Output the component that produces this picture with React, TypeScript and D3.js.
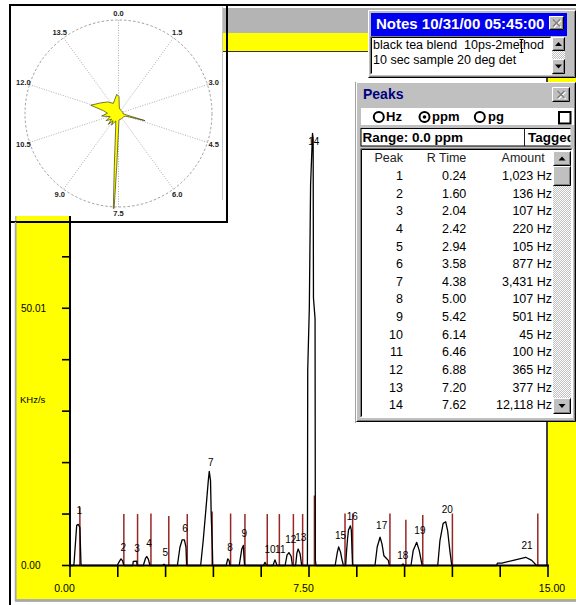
import React from "react";
import * as d3 from "d3";

const FONT = "'Liberation Sans', Arial, Helvetica, sans-serif";

// ---- chromatogram trace: [retention time (min), signal (KHz/s)]
const tracePoints: [number, number][] = [
  [0, 0], [0.1, 0], [0.125, 0.3], [0.21, 7.8], [0.26, 8.0], [0.31, 7.4], [0.345, 0.3], [0.37, 0],
  [1.48, 0], [1.55, 0.8], [1.6, 1.3], [1.65, 0.9], [1.69, 0],
  [1.97, 0], [1.985, 0.8], [2.09, 0.85], [2.11, 0],
  [2.3, 0], [2.37, 1.4], [2.41, 1.75], [2.46, 1.2], [2.51, 0],
  [2.9, 0], [2.95, 0.25], [3.0, 0],
  [3.37, 0], [3.45, 3.55], [3.52, 5.0], [3.59, 5.0], [3.64, 3.55], [3.66, 0],
  [4.1, 0], [4.18, 4.85], [4.27, 11.3], [4.34, 16.5], [4.37, 18.3], [4.41, 16.5], [4.43, 10.1], [4.47, 2.9], [4.48, 0],
  [4.9, 0], [4.95, 1.3], [4.99, 1.0], [5.02, 0],
  [5.31, 0], [5.39, 3.2], [5.44, 3.9], [5.46, 1.6], [5.48, 0],
  [6.07, 0], [6.12, 0.6], [6.17, 0],
  [6.37, 0], [6.43, 1.1], [6.5, 0],
  [6.75, 0], [6.81, 2.0], [6.87, 2.5], [6.94, 1.8], [6.98, 0],
  [7.08, 0], [7.12, 2.4], [7.16, 3.2], [7.22, 2.3], [7.27, 0],
  [7.45, 0], [7.46, 38], [7.51, 50], [7.55, 74], [7.61, 84], [7.63, 83], [7.64, 52], [7.69, 48], [7.7, 1], [7.72, 0],
  [8.32, 0], [8.39, 2.6], [8.43, 3.6], [8.49, 2.6], [8.53, 1.3], [8.58, 0],
  [8.65, 0], [8.68, 2.9], [8.71, 5.2], [8.74, 6.9], [8.8, 7.7], [8.83, 6.8], [8.85, 2.9], [8.87, 0],
  [9.57, 0], [9.64, 3.6], [9.73, 5.5], [9.79, 4.2], [9.85, 1.9], [9.94, 1.3], [9.99, 1.0], [10.02, 0],
  [10.4, 0], [10.45, 0.3], [10.5, 0],
  [10.7, 0], [10.77, 2.9], [10.88, 4.5], [10.96, 2.9], [11.01, 1.3], [11.05, 0],
  [11.54, 0], [11.61, 4.9], [11.71, 8.2], [11.79, 8.5], [11.85, 6.8], [11.92, 2.9], [11.98, 0],
  [13.39, 0], [13.41, 0.45], [13.55, 0.45], [13.91, 1.0], [14.3, 1.6], [14.49, 1.0], [14.64, 0], [15, 0],
];

// ---- peak end markers (red)
const markerTimes = [0.31, 1.69, 2.12, 2.54, 3.1, 3.68, 4.46, 5.04, 5.49, 6.19, 6.57, 7.01, 7.3, 7.67, 8.63, 8.87, 10.04, 10.54, 11.07, 12.0, 14.68];
const markerHeights = [11.3, 10, 10, 10.1, 9.6, 10, 10.5, 10.1, 10, 10, 10, 10, 10, 13.6, 10.1, 10.1, 10.1, 8.9, 9.8, 10.1, 10.1];

// ---- peak labels
const peakLabelNames = ["1", "2", "3", "4", "5", "6", "7", "8", "9", "10", "11", "12", "13", "14", "15", "16", "17", "18", "19", "20", "21"];
const peakLabelTimes = [0.29, 1.67, 2.1, 2.48, 2.99, 3.61, 4.42, 5.02, 5.47, 6.28, 6.6, 6.93, 7.24, 7.65, 8.49, 8.86, 9.78, 10.44, 10.98, 11.84, 14.34];
const peakLabelValues = [10.6, 3.5, 3.3, 4.2, 2.6, 7.1, 20.0, 3.5, 6.3, 3.2, 3.2, 5.1, 5.4, 82.5, 5.9, 9.6, 7.7, 2.0, 6.8, 10.8, 3.8];

// ---- axes
const xTickValues = [0, 1.5, 3, 4.5, 6, 7.5, 9, 10.5, 12, 13.5, 15];
const xLabelValues = [0, 7.5, 15];
const xLabelTexts = ["0.00", "7.50", "15.00"];
const yTickValues = [0, 10.002, 20.004, 30.006, 40.008, 50.01, 60.012, 70.014, 80.016, 90.018, 100.02];
const yLabelValues = [0, 50.01];
const yLabelTexts = ["0.00", "50.01"];
const yUnit = "KHz/s";

// ---- polar inset
const polarTickTimes = [0, 1.5, 3, 4.5, 6, 7.5, 9, 10.5, 12, 13.5];
const polarTickLabels = ["0.0", "1.5", "3.0", "4.5", "6.0", "7.5", "9.0", "10.5", "12.0", "13.5"];
const polarPoints: [number, number][] = [
  [0.07, 18], [0.35, 6], [1.0, 4.5], [2.0, 4.3], [3.0, 4.8], [3.9, 5], [4.15, 8], [4.38, 29.4], [4.6, 8],
  [5.2, 6.4], [6.2, 6.4], [7.32, 7], [7.58, 56.7], [7.61, 101.6], [7.63, 101.6], [7.69, 56.7], [8.0, 14.4],
  [8.35, 8.6], [8.8, 14.4], [9.05, 9.6], [9.3, 16], [9.6, 9.6], [10.0, 15.3], [10.4, 9.6], [10.9, 18.2],
  [11.3, 11.8], [11.7, 16.6], [11.94, 31], [12.5, 22.5], [13.2, 17], [13.87, 12.2], [14.78, 20.6],
];

// ---- peaks table
const peakIds = ["1", "2", "3", "4", "5", "6", "7", "8", "9", "10", "11", "12", "13", "14"];
const peakRTimes = ["0.24", "1.60", "2.04", "2.42", "2.94", "3.58", "4.38", "5.00", "5.42", "6.14", "6.46", "6.88", "7.20", "7.62"];
const peakAmounts = ["1,023 Hz", "136 Hz", "107 Hz", "220 Hz", "105 Hz", "877 Hz", "3,431 Hz", "107 Hz", "501 Hz", "45 Hz", "100 Hz", "365 Hz", "377 Hz", "12,118 Hz"];

const notesTitle = "Notes 10/31/00 05:45:00";
const notesLines = ["black tea blend  10ps-2method", "10 sec sample 20 deg det"];

const GRAY = "#c0c0c0";

function Raised({ x, y, w, h, fill = GRAY }: any) {
  return (
    <g>
      <rect x={x} y={y} width={w} height={h} fill={fill} />
      <path d={`M${x + 0.5},${y + h - 0.5}V${y + 0.5}H${x + w - 0.5}`} stroke="#fff" fill="none" />
      <path d={`M${x + 0.5},${y + h - 0.5}H${x + w - 0.5}V${y + 0.5}`} stroke="#000" fill="none" />
      <path d={`M${x + 1.5},${y + h - 1.5}H${x + w - 1.5}V${y + 1.5}`} stroke="#808080" fill="none" />
    </g>
  );
}

function Sunken({ x, y, w, h, fill = "#fff" }: any) {
  return (
    <g>
      <rect x={x} y={y} width={w} height={h} fill={fill} />
      <path d={`M${x + 0.5},${y + h - 0.5}V${y + 0.5}H${x + w - 0.5}`} stroke="#808080" fill="none" />
      <path d={`M${x + 1.5},${y + h - 1.5}V${y + 1.5}H${x + w - 1.5}`} stroke="#000" fill="none" />
      <path d={`M${x + 0.5},${y + h - 0.5}H${x + w - 0.5}V${y + 0.5}`} stroke="#fff" fill="none" />
    </g>
  );
}

function CloseBtn({ x, y, w, h }: any) {
  const cx = x + w / 2, cy = y + h / 2;
  const s = 3.5;
  return (
    <g>
      <Raised x={x} y={y} w={w} h={h} />
      <path d={`M${cx - s + 1},${cy - s + 1}L${cx + s + 1},${cy + s + 1}M${cx + s + 1},${cy - s + 1}L${cx - s + 1},${cy + s + 1}`} stroke="#fff" strokeWidth={1.6} />
      <path d={`M${cx - s},${cy - s}L${cx + s},${cy + s}M${cx + s},${cy - s}L${cx - s},${cy + s}`} stroke="#808080" strokeWidth={1.6} />
    </g>
  );
}

function ArrowBtn({ x, y, w, h, up }: any) {
  const cx = x + w / 2, cy = y + h / 2;
  const d = up
    ? `M${cx - 3.5},${cy + 2}L${cx + 3.5},${cy + 2}L${cx},${cy - 2}Z`
    : `M${cx - 3.5},${cy - 2}L${cx + 3.5},${cy - 2}L${cx},${cy + 2}Z`;
  return (
    <g>
      <Raised x={x} y={y} w={w} h={h} />
      <path d={d} fill="#000" />
    </g>
  );
}

export default function App() {
  const x = d3.scaleLinear().domain([0, 15]).range([70, 548]);
  const y = d3.scaleLinear().domain([0, 100.02]).range([565.5, 51]);
  const traceLine = d3
    .line<[number, number]>()
    .x((d) => x(d[0]))
    .y((d) => y(d[1]));

  const pcx = 118.5, pcy = 113.5;
  const ang = d3.scaleLinear().domain([0, 15]).range([0, 2 * Math.PI]);
  const rad = d3.scaleLinear().domain([0, 100]).range([0, 93.5]);
  const radial = d3
    .lineRadial<[number, number]>()
    .angle((d) => ang(d[0]))
    .radius((d) => rad(d[1]))
    .curve(d3.curveLinearClosed);
  const labelR = 100;

  const rowY0 = 180, rowH = 17.64;

  return (
    <svg
      width={576}
      height={605}
      style={{ position: "absolute", left: 0, top: 0, background: "#fff" }}
      fontFamily={FONT}
    >
      <defs>
        <pattern id="dither" width={2} height={2} patternUnits="userSpaceOnUse">
          <rect width={2} height={2} fill={GRAY} />
          <rect width={1} height={1} fill="#fff" />
          <rect x={1} y={1} width={1} height={1} fill="#fff" />
        </pattern>
      </defs>
      <rect x={0} y={0} width={576} height={605} fill="#fff" />

      {/* main panel */}
      <rect x={15} y={8} width={561} height={594} fill="#b4b4b4" />
      <rect x={16.5} y={33} width={560} height={566} fill="#ffff00" />
      <rect x={x(0)} y={y(100.02)} width={x(15) - x(0)} height={y(0) - y(100.02)} fill="#fff" />

      {/* y ticks */}
      {yTickValues.map((v, i) => (
        <line key={"yt" + i} x1={x(0) - 8} x2={x(0)} y1={y(v)} y2={y(v)} stroke="#000" strokeWidth={1.6} />
      ))}
      {yLabelValues.map((v, i) => (
        <text key={"yl" + i} x={21} y={y(v)} dy="0.35em" fontSize={10} fill="#000">
          {yLabelTexts[i]}
        </text>
      ))}
      <text x={20} y={400} dy="0.35em" fontSize={9.5} fill="#000">{yUnit}</text>

      {/* x ticks */}
      {xTickValues.map((v, i) => (
        <line key={"xt" + i} x1={x(v)} x2={x(v)} y1={y(0)} y2={y(0) + 11.5} stroke="#000" strokeWidth={1.6} />
      ))}
      {xLabelValues.map((v, i) => (
        <text
          key={"xl" + i}
          x={x(v) + (i === 2 ? 4 : -5.5)}
          y={588}
          dy="0.35em"
          textAnchor="middle"
          fontSize={10.5}
          fill="#000"
        >
          {xLabelTexts[i]}
        </text>
      ))}

      {/* markers */}
      {markerTimes.map((t, i) => (
        <line key={"mk" + i} x1={x(t)} x2={x(t)} y1={y(0)} y2={y(markerHeights[i])} stroke="#9a2525" strokeWidth={1.5} />
      ))}

      {/* trace */}
      <path d={traceLine(tracePoints) || ""} fill="none" stroke="#000" strokeWidth={1.3} strokeLinejoin="round" />

      {/* frame lines of plot */}
      <line x1={x(0)} x2={x(0)} y1={y(100.02)} y2={y(0) + 1} stroke="#000" strokeWidth={2} />
      <line x1={x(15) - 1} x2={x(15) - 1} y1={y(100.02)} y2={y(0)} stroke="#000" strokeWidth={1.5} />
      <line x1={x(0)} x2={x(15)} y1={y(100.02) + 0.5} y2={y(100.02) + 0.5} stroke="#333" strokeWidth={1.2} />
      <line x1={x(0)} x2={x(15) + 1} y1={y(0)} y2={y(0)} stroke="#000" strokeWidth={2} />

      {/* peak labels */}
      {peakLabelNames.map((n, i) => (
        <text
          key={"pl" + i}
          x={x(peakLabelTimes[i])}
          y={y(peakLabelValues[i])}
          dy="0.35em"
          textAnchor="middle"
          fontSize={10}
          fill="#000"
        >
          {n}
        </text>
      ))}

      {/* polar inset */}
      <rect x={11} y={6} width={212} height={210} fill="#fff" />
      <line x1={222.5} x2={222.5} y1={7} y2={200} stroke="#c8c8c8" strokeWidth={1} />
      <g transform={`translate(${pcx},${pcy})`}>
        <circle r={rad(100)} fill="none" stroke="#888" strokeWidth={0.8} strokeDasharray="2.5,2" />
        {polarTickTimes.map((t, i) => {
          const a = ang(t);
          return (
            <line
              key={"sp" + i}
              x1={0}
              y1={0}
              x2={rad(100) * Math.sin(a)}
              y2={-rad(100) * Math.cos(a)}
              stroke="#999"
              strokeWidth={0.8}
              strokeDasharray="1,1.5"
            />
          );
        })}
        <path d={radial(polarPoints) || ""} fill="#ffff00" stroke="#3a3a10" strokeWidth={0.7} />
        {polarTickTimes.map((t, i) => {
          const a = ang(t);
          return (
            <text
              key={"pt" + i}
              x={labelR * Math.sin(a)}
              y={-labelR * Math.cos(a)}
              dy="0.35em"
              textAnchor="middle"
              fontSize={7.5}
              fontWeight="bold"
              fill="#222"
            >
              {polarTickLabels[i]}
            </text>
          );
        })}
      </g>
      <line x1={9} x2={228} y1={222} y2={222} stroke="#000" strokeWidth={2} />
      <line x1={227} x2={227} y1={4} y2={223} stroke="#000" strokeWidth={2} />

      {/* Notes window */}
      <Raised x={368} y={10} w={208} h={68} />
      <rect x={371} y={13} width={196} height={23} fill="#0000f0" />
      <text x={376} y={29.3} fill="#fff" fontWeight="bold" fontSize={15}>{notesTitle}</text>
      <CloseBtn x={549} y={16} w={15} h={14} />
      <Sunken x={370} y={36} w={182} h={39} />
      {notesLines.map((l, i) => (
        <text key={"nl" + i} x={373} y={48.5 + i * 15} fontSize={12.5} fill="#000" style={{ whiteSpace: "pre" }}>{l}</text>
      ))}
      <path d="M519.5,39.5h4M519.5,52.5h4M521.5,39.5v13" stroke="#000" strokeWidth={1} fill="none" />
      <rect x={552} y={37} width={13} height={37} fill="url(#dither)" />
      <ArrowBtn x={552} y={37} w={13} h={14} up />
      <ArrowBtn x={552} y={59} w={13} h={15} />

      {/* Peaks window */}
      <line x1={355.5} x2={355.5} y1={82} y2={423} stroke="#a0a0a0" strokeWidth={1} />
      <Raised x={356} y={82} w={220} h={340} />
      <rect x={359} y={85} width={215} height={19} fill={GRAY} />
      <text x={363} y={99.3} fill="#000080" fontWeight="bold" fontSize={14}>Peaks</text>
      <CloseBtn x={552} y={87} w={18} h={15} />

      <rect x={361} y={108} width={213} height={17} fill="#fff" />
      <circle cx={378.8} cy={117} r={5} fill="#fff" stroke="#000" strokeWidth={2} />
      <text x={386} y={120.7} fontWeight="bold" fontSize={13} fill="#000">Hz</text>
      <circle cx={424.5} cy={117} r={5} fill="#fff" stroke="#000" strokeWidth={2} />
      <circle cx={424.5} cy={117} r={1.8} fill="#000" />
      <text x={432} y={120.7} fontWeight="bold" fontSize={13} fill="#000">ppm</text>
      <circle cx={479.8} cy={117} r={5} fill="#fff" stroke="#000" strokeWidth={2} />
      <text x={488} y={120.7} fontWeight="bold" fontSize={13} fill="#000">pg</text>
      <rect x={559} y={112} width={11.5} height={11.5} fill="#fff" stroke="#000" strokeWidth={2} />

      <rect x={361} y={128.5} width={163.5} height={17.5} fill="#fff" stroke="#000" strokeWidth={1} />
      <text x={362.5} y={141.7} fontWeight="bold" fontSize={13.5} fill="#000">Range: 0.0 ppm</text>
      <svg x={524.5} y={128} width={46} height={19} overflow="hidden">
        <rect x={0} y={0.5} width={60} height={17.5} fill="#fff" stroke="#000" strokeWidth={1} />
        <text x={3.5} y={13.7} fontWeight="bold" fontSize={13.5} fill="#000">Tagged</text>
      </svg>

      <Sunken x={360} y={148} w={213} h={270} />
      <text x={403} y={162.3} textAnchor="end" fontSize={12.5} fill="#222">Peak</text>
      <text x={466.3} y={162.3} textAnchor="end" fontSize={12.5} fill="#222">R Time</text>
      <text x={544.7} y={162.3} textAnchor="end" fontSize={12.5} fill="#222">Amount</text>
      {peakIds.map((p, i) => (
        <g key={"row" + i}>
          <text x={403} y={rowY0 + i * rowH} textAnchor="end" fontSize={12.5} fill="#000">{p}</text>
          <text x={466.3} y={rowY0 + i * rowH} textAnchor="end" fontSize={12.5} fill="#000">{peakRTimes[i]}</text>
          <text x={552} y={rowY0 + i * rowH} textAnchor="end" fontSize={12.5} fill="#000">{peakAmounts[i]}</text>
        </g>
      ))}
      <rect x={553} y={151} width={18} height={263} fill="url(#dither)" />
      <ArrowBtn x={553} y={151} w={18} h={15} up />
      <Raised x={553} y={166} w={18} h={20} />
      <ArrowBtn x={553} y={398} w={18} h={16} />

      {/* outer frame */}
      <line x1={10} x2={10} y1={4} y2={605} stroke="#000" strokeWidth={2} />
      <line x1={9} x2={576} y1={5} y2={5} stroke="#000" strokeWidth={2} />
      <line x1={15.5} x2={15.5} y1={222} y2={601} stroke="#a8a8a8" strokeWidth={1.5} />
      <line x1={15} x2={576} y1={600.5} y2={600.5} stroke="#a8a8a8" strokeWidth={1.5} />
    </svg>
  );
}
